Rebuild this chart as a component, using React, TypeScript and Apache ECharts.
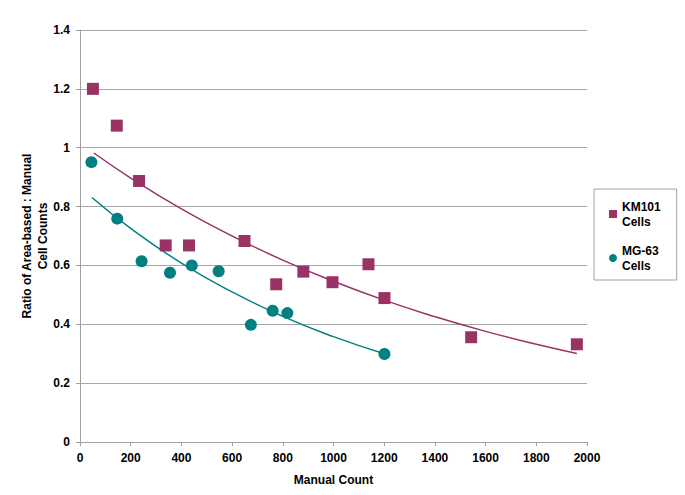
import React, { useEffect, useRef } from "react";
import * as echarts from "echarts";

const km101Points: [number, number][] = [
  [51, 1.2], [145, 1.075], [233, 0.887], [338, 0.668], [430, 0.668],
  [649, 0.683], [774, 0.536], [881, 0.579], [996, 0.543], [1138, 0.604],
  [1201, 0.489], [1543, 0.356], [1960, 0.332],
];
const mg63Points: [number, number][] = [
  [45, 0.951], [147, 0.759], [243, 0.614], [355, 0.575], [441, 0.6],
  [547, 0.58], [674, 0.398], [760, 0.446], [818, 0.438], [1201, 0.299],
];
// trend lines
const km101Trend: [number, number][] = [
  [55, 0.982], [200, 0.897], [400, 0.792], [600, 0.7], [800, 0.618],
  [1000, 0.546], [1200, 0.482], [1400, 0.426], [1600, 0.376], [1800, 0.332], [1960, 0.301],
];
const mg63Trend: [number, number][] = [
  [47, 0.831], [200, 0.726], [400, 0.608], [600, 0.51], [800, 0.427],
  [1000, 0.358], [1200, 0.3],
];
const seriesNames = ["KM101\nCells", "MG-63\nCells"];
const colors = ["#993366", "#008080"];
const yTitle = "Ratio of Area-based : Manual\nCell Counts";
const xTitle = "Manual Count";

export default function App() {
  const ref = useRef<HTMLDivElement>(null);
  useEffect(() => {
    if (!ref.current) return;
    const chart = echarts.init(ref.current, null, { renderer: "svg" });
    const font = "'Liberation Sans', Arial, sans-serif";
    chart.setOption({
      animation: false,
      backgroundColor: "#ffffff",
      textStyle: { fontFamily: font },
      grid: { left: 80, right: 98, top: 30, bottom: 53, containLabel: false },
      graphic: [
        {
          type: "text",
          x: 35,
          y: 236,
          rotation: Math.PI / 2,
          style: {
            text: yTitle,
            fontFamily: font,
            fontSize: 12,
            fontWeight: "bold",
            fill: "#000",
            lineHeight: 16,
            align: "center",
            verticalAlign: "middle",
          },
        },
      ],
      legend: {
        left: 594,
        top: 189,
        orient: "vertical",
        data: [
          { name: seriesNames[0], icon: "rect" },
          { name: seriesNames[1], icon: "circle" },
        ],
        itemWidth: 8,
        itemHeight: 8,
        itemGap: 0,
        padding: [3, 16, 0, 15],
        borderColor: "#a0a0a0",
        borderWidth: 1,
        textStyle: {
          fontFamily: font,
          fontSize: 12,
          fontWeight: "bold",
          color: "#000",
          lineHeight: 15,
          padding: [14, 0, 0, 0],
        },
      },
      xAxis: {
        type: "value",
        min: 0,
        max: 2000,
        interval: 200,
        name: xTitle,
        nameLocation: "middle",
        nameGap: 32,
        nameTextStyle: { fontFamily: font, fontSize: 12, fontWeight: "bold", color: "#000" },
        axisLine: { show: true, lineStyle: { color: "#a0a0a0", width: 1 } },
        axisTick: { show: true, length: 4, lineStyle: { color: "#a0a0a0" } },
        axisLabel: {
          fontFamily: font, fontSize: 12, fontWeight: "bold", color: "#000", margin: 10,
          formatter: (v: number) => String(v),
        },
        splitLine: { show: false },
      },
      yAxis: {
        type: "value",
        min: 0,
        max: 1.4,
        interval: 0.2,
        axisLine: { show: true, lineStyle: { color: "#a0a0a0", width: 1 } },
        axisTick: { show: true, length: 4, lineStyle: { color: "#a0a0a0" } },
        axisLabel: { fontFamily: font, fontSize: 12, fontWeight: "bold", color: "#000", margin: 10 },
        splitLine: { show: true, lineStyle: { color: "#a6a6a6", width: 1 } },
      },
      series: [
        {
          name: seriesNames[0],
          type: "scatter",
          symbol: "rect",
          symbolSize: 12,
          itemStyle: { color: colors[0], opacity: 1 },
          data: km101Points,
          z: 3,
        },
        {
          name: seriesNames[1],
          type: "scatter",
          symbol: "circle",
          symbolSize: 12,
          itemStyle: { color: colors[1], opacity: 1 },
          data: mg63Points,
          z: 3,
        },
        {
          name: "KM101 trend",
          type: "line",
          smooth: true,
          showSymbol: false,
          lineStyle: { color: colors[0], width: 1.5 },
          data: km101Trend,
          z: 2,
        },
        {
          name: "MG-63 trend",
          type: "line",
          smooth: true,
          showSymbol: false,
          lineStyle: { color: colors[1], width: 1.5 },
          data: mg63Trend,
          z: 2,
        },
      ],
    });
    return () => chart.dispose();
  }, []);
  return (
    <div
      ref={ref}
      style={{ position: "fixed", left: 0, top: 0, width: 685, height: 495, background: "#fff" }}
    />
  );
}
